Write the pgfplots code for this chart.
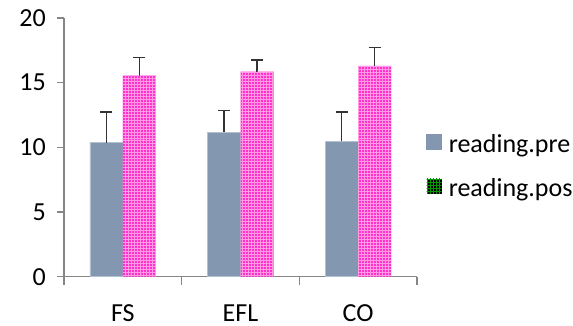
\documentclass[border=0pt]{standalone}
\usepackage{fontspec}
\setmainfont{Carlito}
\usepackage{pgfplots}
\pgfplotsset{compat=1.18}
\usetikzlibrary{patterns}
\definecolor{prec}{HTML}{8497B0}
\definecolor{postc}{HTML}{FF33CC}
\definecolor{postl}{HTML}{FF99E4}
\definecolor{axc}{HTML}{868686}
\begin{document}
\begin{tikzpicture}
\useasboundingbox (0,0) rectangle (573bp,326bp);
\begin{axis}[
 at={(64bp,49.3bp)}, anchor=south west,
 scale only axis, width=353bp, height=258.7bp,
 xmin=-0.5, xmax=2.5, ymin=0, ymax=20,
 axis x line=bottom, axis y line=left,
 axis line style={axc, line width=1.3bp, -},
 ybar=0pt, bar width=33bp,
 xtick={0,1,2}, xticklabels={FS,EFL,CO},
 minor xtick={-0.5,0.5,1.5,2.5},
 major x tick style={draw=none},
 minor x tick style={axc, line width=1.3bp},
 minor tick length=8bp,
 ytick={0,5,10,15,20},
 tick align=outside,
 major tick length=7bp,
 major y tick style={axc, line width=1.3bp},
 font=\fontsize{26bp}{30bp}\selectfont,
 tick label style={font=\fontsize{26bp}{30bp}\selectfont},
 /pgf/number format/assume math mode=true,
 yticklabel style={anchor=east, inner sep=0pt, xshift=-11bp},
 xticklabel style={anchor=base, inner sep=0pt, yshift=-37.5bp},
 legend cell align=left,
 legend style={at={(axis description cs:1.0255,0.426)}, anchor=west,
   draw=none, fill=none, inner sep=0pt, row sep=20.5bp,
   /tikz/every odd column/.append style={column sep=5bp},
   font=\fontsize{26bp}{30bp}\selectfont},
 myerr/.style={error bars/y dir=plus, error bars/y explicit,
   error bars/error bar style={line width=1.3bp, black!80},
   error bars/error mark options={rotate=90, mark size=6bp, line width=1.3bp, black!80}},
]
\addplot[fill=prec, draw=prec!60!white, line width=0.6bp, bar shift=-16.5bp, myerr,
  legend image code/.code={\fill[prec] (0bp,-5bp) rectangle (15bp,10bp);}]
  coordinates {(0,10.36) +- (0,2.38) (1,11.17) +- (0,1.70) (2,10.47) +- (0,2.27)};
\addlegendentry{reading.pre}
\addplot[fill=postc, draw=none, bar shift=16.5bp, myerr,
  legend image code/.code={\fill[black] (0bp,-5bp) rectangle (15bp,10bp);
     \fill[pattern=grid, pattern color=green!60!black] (0bp,-5bp) rectangle (15bp,10bp);}]
  coordinates {(0,15.55) +- (0,1.39) (1,15.85) +- (0,0.91) (2,16.30) +- (0,1.41)};
\addlegendentry{reading.pos}
\addplot[forget plot, draw=none, pattern=grid, pattern color=postl, bar shift=16.5bp]
  coordinates {(0,15.55) (1,15.85) (2,16.30)};
\end{axis}
\end{tikzpicture}
\end{document}
